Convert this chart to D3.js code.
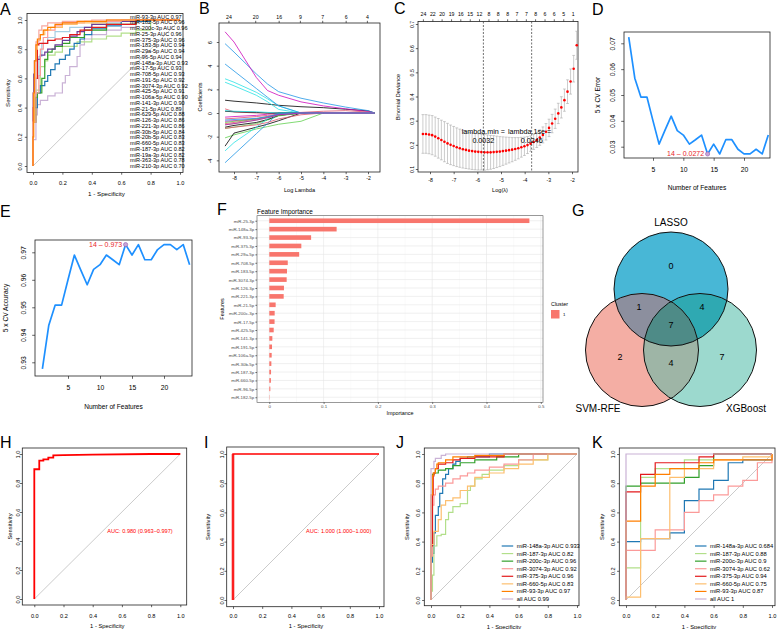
<!DOCTYPE html>
<html><head><meta charset="utf-8">
<script src="https://cdn.jsdelivr.net/npm/d3@7"></script>
<style>body{margin:0;background:#fff}</style>
</head><body>
<script>
// ---------------- DATA ----------------
// Panel A: single-miRNA ROC legend
const aLegendNames = ["miR-93-3p","miR-182-5p","miR-200c-3p","miR-25-3p","miR-375-3p","miR-183-5p","miR-29a-5p","miR-96-5p","miR-148a-3p","miR-17-5p","miR-708-5p","miR-191-5p","miR-3074-3p","miR-425-5p","miR-106a-5p","miR-141-3p","miR-21-5p","miR-629-5p","miR-126-3p","miR-221-3p","miR-30b-5p","miR-20b-5p","miR-660-5p","miR-187-3p","miR-19a-3p","miR-363-3p","miR-210-3p"];
const aLegendAUC = ["0.97","0.96","0.96","0.96","0.96","0.94","0.94","0.94","0.93","0.93","0.93","0.92","0.92","0.91","0.90","0.90","0.89","0.88","0.86","0.86","0.84","0.83","0.83","0.82","0.82","0.78","0.70"];
const aCurveColors = ["#CAB2D6","#B2DF8A","#A6CEE3","#1F78B4","#33A02C","#6A3D9A","#FB9A99","#E31A1C","#FDBF6F","#F7A8A0","#FF7F00"];
const aCurves = [
 [[0,0],[0.02,0.18],[0.03,0.35],[0.05,0.42],[0.1,0.45],[0.15,0.48],[0.2,0.5],[0.22,0.57],[0.25,0.62],[0.3,0.68],[0.32,0.75],[0.35,0.83],[0.4,0.87],[0.5,0.9],[0.6,0.93],[0.7,0.95],[1,1]],
 [[0,0],[0.02,0.35],[0.05,0.52],[0.08,0.68],[0.1,0.72],[0.15,0.76],[0.2,0.78],[0.3,0.82],[0.4,0.85],[0.5,0.87],[0.6,0.89],[0.7,0.91],[0.8,0.93],[1,1]],
 [[0,0],[0.02,0.4],[0.04,0.6],[0.06,0.75],[0.1,0.84],[0.15,0.88],[0.25,0.92],[0.4,0.95],[0.6,0.98],[1,1]],
 [[0,0],[0.03,0.4],[0.05,0.5],[0.08,0.55],[0.1,0.58],[0.12,0.62],[0.15,0.66],[0.18,0.7],[0.22,0.73],[0.25,0.76],[0.28,0.8],[0.32,0.84],[0.35,0.87],[0.4,0.9],[0.5,0.94],[0.6,0.96],[0.8,0.99],[1,1]],
 [[0,0],[0.02,0.3],[0.03,0.47],[0.06,0.5],[0.08,0.6],[0.1,0.73],[0.13,0.78],[0.15,0.8],[0.2,0.82],[0.25,0.84],[0.35,0.88],[0.5,0.93],[0.7,0.97],[1,1]],
 [[0,0],[0,0.1],[0.005,0.5],[0.01,0.63],[0.02,0.72],[0.05,0.73],[0.08,0.76],[0.1,0.78],[0.15,0.8],[0.2,0.83],[0.25,0.86],[0.3,0.89],[0.35,0.92],[0.4,0.95],[0.5,0.97],[0.7,0.99],[1,1]],
 [[0,0],[0.02,0.3],[0.04,0.5],[0.05,0.62],[0.07,0.8],[0.1,0.88],[0.15,0.93],[0.2,0.96],[0.35,0.98],[0.6,0.99],[1,1]],
 [[0,0],[0.01,0.4],[0.03,0.6],[0.04,0.83],[0.1,0.84],[0.15,0.86],[0.2,0.87],[0.25,0.88],[0.32,0.9],[0.4,0.93],[0.5,0.95],[0.7,0.97],[1,1]],
 [[0,0],[0.01,0.3],[0.02,0.6],[0.03,0.8],[0.05,0.86],[0.08,0.9],[0.12,0.93],[0.2,0.95],[0.3,0.97],[0.5,0.98],[1,1]],
 [[0,0],[0.02,0.5],[0.04,0.85],[0.06,0.93],[0.1,0.96],[0.2,0.98],[0.4,0.99],[1,1]],
 [[0,0],[0.005,0.2],[0.01,0.5],[0.02,0.72],[0.03,0.83],[0.05,0.87],[0.07,0.9],[0.1,0.93],[0.15,0.95],[0.2,0.97],[0.3,0.98],[0.5,0.99],[0.7,1],[1,1]]
];

// Panel B: LASSO coefficient paths
const bLambda = [-8.4,-8.0,-7.0,-6.5,-6.0,-5.0,-4.0,-3.0,-2.0,-1.7];
const bCoefs = [
 [1.08,1.0,0.85,0.75,0.65,0.53,0.45,0.32,0.18,0],
 [-0.5,-0.45,-0.3,-0.2,-0.1,0,0,0,0,0],
 [-2.1,-1.85,-1.35,-1.15,-0.95,-0.7,0,0,0,0],
 [5.86,5.15,3.3,2.45,1.8,1.25,0.85,0.5,0.2,0],
 [2.89,2.6,1.75,1.2,0.6,0,0,0,0,0],
 [6.86,6.0,3.0,1.9,1.5,0.94,0.6,0.35,0.12,0],
 [-2.8,-1.7,-1.2,-0.95,-0.65,0,0,0,0,0],
 [-0.9,-0.8,-0.5,-0.3,-0.1,0,0,0,0,0],
 [-1.3,-1.2,-0.9,-0.6,-0.25,0,0,0,0,0],
 [4.14,3.55,2.07,1.33,0.6,0,0,0,0,0],
 [2.6,2.3,1.5,0.95,0.3,0,0,0,0,0],
 [-0.35,-0.3,-0.2,-0.1,0,0,0,0,0,0],
 [-1.2,-1.05,-0.8,-0.55,-0.2,0,0,0,0,0],
 [0.35,0.1,0,0,0,0.05,0.15,0.2,0.08,0],
 [-1.0,-0.9,-0.6,-0.4,-0.15,0,0,0,0,0],
 [-4.2,-3.5,-1.75,-0.87,0,0,0,0,0,0],
 [-3.2,-2.5,-1.2,-0.5,0,0,0,0,0,0],
 [-0.7,-0.65,-0.5,-0.35,-0.1,0,0,0,0,0],
 [0.15,0.1,0.05,0,0,0,0,0,0,0],
 [-1.3,-1.2,-1.0,-0.8,-0.5,-0.15,0,0,0,0],
 [-0.8,-0.7,-0.5,-0.35,-0.2,0,0,0,0,0],
 [-0.6,-0.55,-0.45,-0.3,-0.1,0,0,0,0,0],
 [0.2,0.15,0.1,0.05,0,0,0,0,0,0],
 [-1.0,-0.9,-0.6,-0.4,-0.15,0,0,0,0,0]
];
const bPalette = ["#000000","#DF536B","#61D04F","#2297E6","#28E2E5","#CD0BBC"];
const bTopLambda = [-8.25,-7.05,-6.0,-5.05,-4.05,-3.0,-2.05];
const bTopCounts = ["24","20","16","9","7","6","4"];

// Panel C: cross-validation deviance
const cLogLambda = [-8.30,-8.17,-8.04,-7.91,-7.78,-7.65,-7.52,-7.39,-7.26,-7.13,-7.00,-6.87,-6.74,-6.61,-6.48,-6.35,-6.22,-6.09,-5.96,-5.83,-5.70,-5.57,-5.44,-5.31,-5.18,-5.05,-4.92,-4.79,-4.66,-4.53,-4.40,-4.27,-4.14,-4.01,-3.88,-3.75,-3.62,-3.49,-3.36,-3.23,-3.10,-2.97,-2.84,-2.71,-2.58,-2.45,-2.32,-2.19,-2.06,-1.93,-1.80];
const cMean = [0.245,0.245,0.243,0.240,0.234,0.227,0.220,0.213,0.206,0.200,0.195,0.190,0.186,0.182,0.179,0.176,0.174,0.172,0.171,0.170,0.169,0.169,0.169,0.170,0.171,0.172,0.174,0.176,0.178,0.180,0.183,0.186,0.190,0.194,0.199,0.205,0.212,0.220,0.230,0.241,0.254,0.270,0.288,0.308,0.330,0.355,0.385,0.420,0.462,0.515,0.612];
const cSd = [0.080,0.080,0.080,0.081,0.081,0.082,0.082,0.083,0.083,0.082,0.081,0.080,0.079,0.078,0.077,0.076,0.076,0.075,0.075,0.074,0.074,0.072,0.070,0.068,0.065,0.062,0.059,0.056,0.053,0.050,0.047,0.044,0.041,0.038,0.035,0.032,0.031,0.031,0.032,0.033,0.034,0.036,0.038,0.040,0.042,0.044,0.046,0.049,0.052,0.055,0.058];
const cTopLambda = [-8.30,-7.90,-7.51,-7.11,-6.72,-6.32,-5.93,-5.53,-5.14,-4.74,-4.35,-3.95,-3.56,-3.16,-2.77,-2.37,-1.97];
const cTopCounts = ["24","22","20","19","16","15","12","8","8","8","7","7","8","6","6","5","1"];
const cLambdaMin = 0.0032, cLambda1se = 0.0246;

// Panels D/E: SVM-RFE CV error / accuracy
const dFeatures = [1,2,3,4,5,6,7,8,9,10,11,12,13,14,15,16,17,18,19,20,21,22,23,24];
const dError = [0.0724,0.0565,0.0492,0.0492,0.0400,0.0310,0.0365,0.0418,0.0362,0.0345,0.0310,0.0327,0.0345,0.0272,0.0310,0.0272,0.0327,0.0327,0.0290,0.0272,0.0272,0.0290,0.0272,0.0345];
const eAccuracy = [0.9276,0.9435,0.9508,0.9508,0.9600,0.9690,0.9635,0.9582,0.9638,0.9655,0.9690,0.9673,0.9655,0.9728,0.9690,0.9728,0.9673,0.9673,0.9710,0.9728,0.9728,0.9710,0.9728,0.9655];

// Panel F: XGBoost importance
const fFeatures = ["miR-25-3p","miR-148a-3p","miR-93-3p","miR-375-3p","miR-29a-5p","miR-708-5p","miR-183-5p","miR-3074-3p","miR-126-3p","miR-221-3p","miR-21-5p","miR-200c-3p","miR-17-5p","miR-425-5p","miR-141-3p","miR-191-5p","miR-106a-5p","miR-30b-5p","miR-187-3p","miR-660-5p","miR-96-5p","miR-182-5p"];
const fImportance = [0.479,0.124,0.077,0.059,0.055,0.034,0.0326,0.032,0.027,0.0265,0.0117,0.0099,0.0097,0.0081,0.0056,0.005,0.0044,0.0038,0.0032,0.003,0.0019,0.0003];
const fTicks = [0,0.1,0.2,0.3,0.4,0.5];

// Panel G: Venn
const vennSets = ["LASSO","SVM-RFE","XGBoost"];
const vennCounts = [0,2,7,1,4,4,7]; // LASSO only, SVM only, XGB only, L&S, L&X, S&X, all

// Panel H / I: combined model ROC
const hRoc = [[0,0],[0,0.895],[0.034,0.895],[0.034,0.954],[0.062,0.954],[0.062,0.963],[0.096,0.963],[0.096,0.975],[0.13,0.975],[0.13,0.99],[0.2,0.992],[0.4,0.995],[0.8,1],[1,1]];
const hAucText = "AUC: 0.980 (0.963\u20130.997)";
const iRoc = [[0,0],[0,1],[1,1]];
const iAucText = "AUC: 1.000 (1.000\u20131.000)";

// Panels J / K
const jkNames = ["miR-148a-3p","miR-187-3p","miR-200c-3p","miR-3074-3p","miR-375-3p","miR-660-5p","miR-93-3p","all"];
const jkColors = ["#1F78B4","#B2DF8A","#33A02C","#FB9A99","#E31A1C","#FDBF6F","#FF7F00","#CAB2D6"];
const jAUC = ["0.933","0.82","0.96","0.92","0.96","0.83","0.97","0.99"];
const kAUC = ["0.684","0.88","0.9","0.62","0.94","0.75","0.87","1"];
const jCurves = [
 [[0,0],[0.01,0.26],[0.02,0.32],[0.03,0.46],[0.05,0.58],[0.06,0.64],[0.08,0.73],[0.1,0.83],[0.12,0.86],[0.15,0.9],[0.17,0.93],[0.2,0.95],[0.25,0.97],[0.4,0.98],[1,1]],
 [[0,0],[0.01,0.06],[0.02,0.17],[0.04,0.37],[0.07,0.44],[0.1,0.45],[0.12,0.55],[0.15,0.6],[0.2,0.64],[0.25,0.66],[0.27,0.75],[0.3,0.78],[0.35,0.83],[0.4,0.86],[0.5,0.89],[0.6,0.92],[0.8,0.96],[1,1]],
 [[0,0],[0.01,0.3],[0.02,0.86],[0.05,0.87],[0.1,0.89],[0.15,0.9],[0.2,0.92],[0.3,0.94],[0.45,0.96],[0.6,0.98],[1,1]],
 [[0,0],[0.01,0.3],[0.02,0.65],[0.03,0.72],[0.05,0.76],[0.1,0.78],[0.15,0.8],[0.2,0.83],[0.25,0.85],[0.3,0.87],[0.4,0.89],[0.5,0.91],[0.6,0.93],[0.7,0.96],[1,1]],
 [[0,0],[0.01,0.37],[0.015,0.72],[0.02,0.85],[0.03,0.87],[0.05,0.9],[0.1,0.93],[0.15,0.94],[0.2,0.96],[0.3,0.97],[0.5,0.98],[1,1]],
 [[0,0],[0.02,0.38],[0.05,0.47],[0.07,0.55],[0.1,0.65],[0.15,0.68],[0.2,0.7],[0.25,0.75],[0.3,0.78],[0.4,0.84],[0.5,0.87],[0.6,0.9],[0.7,0.93],[0.8,0.96],[1,1]],
 [[0,0],[0.005,0.72],[0.01,0.72],[0.015,0.85],[0.03,0.87],[0.04,0.9],[0.05,0.93],[0.1,0.94],[0.15,0.96],[0.3,0.98],[0.5,0.99],[1,1]],
 [[0,0],[0.005,0.9],[0.02,0.9],[0.03,0.95],[0.07,0.97],[0.1,0.99],[0.3,1],[1,1]]
];
const kCurves = [
 [[0,0],[0,0.4],[0.1,0.4],[0.1,0.42],[0.3,0.42],[0.3,0.46],[0.4,0.46],[0.4,0.68],[0.5,0.68],[0.5,0.76],[0.6,0.76],[0.6,0.82],[0.7,0.82],[0.7,0.94],[0.8,0.94],[0.8,0.96],[1,0.96],[1,1]],
 [[0,0],[0,0.22],[0.1,0.22],[0.1,0.84],[0.2,0.84],[0.2,0.9],[0.4,0.9],[0.4,0.96],[0.6,0.96],[0.6,1],[1,1]],
 [[0,0],[0,0.78],[0.1,0.78],[0.1,0.8],[0.4,0.8],[0.4,0.84],[0.5,0.84],[0.5,0.92],[0.6,0.92],[0.6,1],[1,1]],
 [[0,0],[0,0.34],[0.2,0.34],[0.2,0.48],[0.4,0.48],[0.4,0.6],[0.5,0.6],[0.5,0.68],[0.6,0.68],[0.6,0.72],[0.7,0.72],[0.7,0.78],[0.8,0.78],[0.8,0.82],[0.9,0.82],[0.9,0.94],[1,0.94],[1,1]],
 [[0,0],[0,0.74],[0.1,0.74],[0.1,0.86],[0.2,0.86],[0.2,0.94],[0.5,0.94],[0.5,0.98],[0.6,0.98],[0.6,1],[1,1]],
 [[0,0],[0,0.02],[0.1,0.02],[0.1,0.42],[0.3,0.42],[0.3,0.84],[0.4,0.84],[0.4,0.9],[0.6,0.9],[0.6,0.96],[0.8,0.96],[0.8,0.98],[1,0.98],[1,1]],
 [[0,0],[0,0.54],[0.1,0.54],[0.1,0.78],[0.2,0.78],[0.2,0.86],[0.3,0.86],[0.3,0.9],[0.5,0.9],[0.5,0.94],[0.6,0.94],[0.6,0.96],[1,0.96],[1,1]],
 [[0,0],[0,1],[1,1]]
];
const rocTicks = [0,0.2,0.4,0.6,0.8,1];

// ---------------- DRAWING ----------------
const FONT = '"Liberation Sans", Arial, Helvetica, sans-serif';
const svg = d3.select("body").append("svg").attr("width",778).attr("height",629)
  .attr("font-family",FONT);
const defs = svg.append("defs");

function frame(g,x0,x1,y0,y1,stroke="#222",sw=0.8){
  g.append("rect").attr("x",x0).attr("y",y0).attr("width",x1-x0).attr("height",y1-y0)
   .attr("fill","none").attr("stroke",stroke).attr("stroke-width",sw);
}
function txt(g,x,y,s,fs,o={}){
  const t=g.append("text").attr("x",x).attr("y",y).attr("font-size",fs)
    .attr("text-anchor",o.anchor||"middle").attr("dominant-baseline",o.baseline||"central")
    .attr("fill",o.fill||"#000").text(s);
  if(o.rotate) t.attr("transform",`rotate(-90,${x},${y})`);
  if(o.weight) t.attr("font-weight",o.weight);
  return t;
}
function axisB(g,scale,ticks,y,fs,off,fmt,tl=2.2,col="#222"){
  const ax=d3.axisBottom(scale).tickValues(ticks).tickSize(tl).tickFormat(fmt||(d=>d));
  const a=g.append("g").attr("transform",`translate(0,${y})`).call(ax);
  a.attr("font-family",FONT).attr("font-size",fs);
  a.select(".domain").remove();
  a.selectAll(".tick line").attr("stroke",col).attr("stroke-width",0.7);
  a.selectAll(".tick text").attr("y",off).attr("dy","0.35em").attr("fill","#000");
  return a;
}
function axisT(g,scale,ticks,y,fs,off,labels,tl=2.2){
  const ax=d3.axisTop(scale).tickValues(ticks).tickSize(tl).tickFormat((d,i)=>labels[i]);
  const a=g.append("g").attr("transform",`translate(0,${y})`).call(ax);
  a.attr("font-family",FONT).attr("font-size",fs);
  a.select(".domain").remove();
  a.selectAll(".tick line").attr("stroke","#222").attr("stroke-width",0.7);
  a.selectAll(".tick text").attr("y",-off).attr("dy","0.35em").attr("fill","#000");
  return a;
}
function axisL(g,scale,ticks,x,fs,off,fmt,tl=2.2,rotate=true,col="#222"){
  const ax=d3.axisLeft(scale).tickValues(ticks).tickSize(tl).tickFormat(fmt||(d=>d));
  const a=g.append("g").attr("transform",`translate(${x},0)`).call(ax);
  a.attr("font-family",FONT).attr("font-size",fs);
  a.select(".domain").remove();
  a.selectAll(".tick line").attr("stroke",col).attr("stroke-width",0.7);
  if(rotate){
    a.selectAll(".tick text").attr("transform","rotate(-90)").attr("x",0).attr("y",-off)
     .attr("dy","0.35em").attr("text-anchor","middle").attr("fill","#000");
  } else {
    a.selectAll(".tick text").attr("x",-off).attr("fill","#000");
  }
  return a;
}
function letter(s,x,y){ svg.append("text").attr("x",x).attr("y",y).attr("font-size",16).text(s); }
const f1 = d3.format(".1f");

function rocPanel(c){
  const g=svg.append("g");
  const x=d3.scaleLinear().domain([0,1]).range([c.x0,c.x1]);
  const y=d3.scaleLinear().domain([0,1]).range([c.y0,c.y1]);
  g.append("line").attr("x1",x(0)).attr("y1",y(0)).attr("x2",x(1)).attr("y2",y(1))
   .attr("stroke","#BEBEBE").attr("stroke-width",0.8);
  frame(g,c.bx0,c.bx1,c.by0,c.by1);
  axisB(g,x,rocTicks,c.by1,c.fs,c.xoff,f1);
  axisL(g,y,rocTicks,c.bx0,c.fs,c.yoff,f1);
  txt(g,(x(0)+x(1))/2,c.xlabY,"1 - Specificity",c.lfs);
  txt(g,c.ylabX,(c.by0+c.by1)/2,"Sensitivity",c.lfs,{rotate:true});
  return {g,x,y};
}

// ===== A =====
{
  const p=rocPanel({x0:33,x1:180,y0:166,y1:20,bx0:27,bx1:183,by0:13.5,by1:172.5,fs:5.6,xoff:10.5,yoff:7,xlabY:193,ylabX:7,lfs:6.2});
  const line=d3.line().x(d=>p.x(d[0])).y(d=>p.y(d[1])).curve(d3.curveStepBefore);
  aCurves.forEach((c,i)=>p.g.append("path").attr("d",line(c)).attr("fill","none")
     .attr("stroke",aCurveColors[i]).attr("stroke-width",1.2));
  const ly=d3.scalePoint().domain(aLegendNames).range([16.7,166]);
  aLegendNames.forEach((n,i)=>txt(p.g,130,ly(n),`${n} AUC ${aLegendAUC[i]}`,5.6,{anchor:"start"}));
  letter("A",0,15);
}

// ===== B =====
{
  const g=svg.append("g");
  const x=d3.scaleLinear().domain([-8,-2]).range([234,368]);
  const y=d3.scaleLinear().domain([0,6]).range([113,42]);
  frame(g,219,380,23,172);
  const line=d3.line().x((d,i)=>x(bLambda[i])).y(d=>y(d));
  bCoefs.forEach((c,i)=>g.append("path").attr("d",line(c)).attr("fill","none")
     .attr("stroke",bPalette[i%6]).attr("stroke-width",0.8));
  axisB(g,x,[-8,-7,-6,-5,-4,-3,-2],172,5.2,6.5,d=>d);
  axisL(g,y,[-4,-2,0,2,4,6],219,5.2,9,d=>d);
  axisT(g,x,bTopLambda,23,5.2,6,bTopCounts);
  txt(g,299.5,190,"Log Lambda",5.6);
  txt(g,200,97,"Coefficients",5.6,{rotate:true});
  letter("B",199,13.5);
}

// ===== C =====
{
  const g=svg.append("g");
  const x=d3.scaleLinear().domain([-8,-2]).range([430,572]);
  const y=d3.scaleLinear().domain([0.1,0.7]).range([169,24]);
  frame(g,418,578,21.5,172);
  cLogLambda.forEach((l,i)=>{
    const xx=x(l), yt=y(cMean[i]+cSd[i]), yb=y(cMean[i]-cSd[i]);
    g.append("line").attr("x1",xx).attr("x2",xx).attr("y1",yt).attr("y2",yb).attr("stroke","#A9A9A9").attr("stroke-width",0.6);
    g.append("line").attr("x1",xx-1.4).attr("x2",xx+1.4).attr("y1",yt).attr("y2",yt).attr("stroke","#A9A9A9").attr("stroke-width",0.6);
    g.append("line").attr("x1",xx-1.4).attr("x2",xx+1.4).attr("y1",yb).attr("y2",yb).attr("stroke","#A9A9A9").attr("stroke-width",0.6);
  });
  cLogLambda.forEach((l,i)=>g.append("circle").attr("cx",x(l)).attr("cy",y(cMean[i])).attr("r",1.3).attr("fill","#FF0000"));
  [cLambdaMin,cLambda1se].forEach(v=>g.append("line").attr("x1",x(Math.log(v))).attr("x2",x(Math.log(v)))
     .attr("y1",21.5).attr("y2",172).attr("stroke","#333").attr("stroke-width",0.7).attr("stroke-dasharray","2,1.5"));
  axisB(g,x,[-8,-7,-6,-5,-4,-3,-2],172,5.2,8,d=>d);
  axisL(g,y,[0.1,0.2,0.3,0.4,0.5,0.6,0.7],418,5.2,6,f1);
  axisT(g,x,cTopLambda,21.5,5.2,7,cTopCounts);
  txt(g,500,190,"Log(\u03bb)",5.6);
  txt(g,398,97,"Binomial Deviance",5.6,{rotate:true});
  const xm=x(Math.log(cLambdaMin)), xs=x(Math.log(cLambda1se));
  txt(g,xm,131.5,"lambda.min =",7.2);
  txt(g,xm,140.5,String(cLambdaMin),7.2);
  txt(g,xs-2,131.5,"lambda.1se =",7.2);
  txt(g,xs,140.5,String(cLambda1se),7.2);
  letter("C",394,14);
}

// ===== D & E =====
function rfePanel(o){
  const g=svg.append("g");
  const x=d3.scaleLinear().domain([5,20]).range(o.xr);
  const y=d3.scaleLinear().domain(o.yd).range(o.yr);
  frame(g,o.bx0,o.bx1,o.by0,o.by1);
  g.append("path").attr("d",d3.line().x((d,i)=>x(dFeatures[i])).y(d=>y(d))(o.vals))
   .attr("fill","none").attr("stroke","#1E90FF").attr("stroke-width",1.7).attr("stroke-linejoin","round");
  axisB(g,x,[5,10,15,20],o.by1,6.8,12,d=>d,2.8);
  axisL(g,y,o.yt,o.bx0,6.8,11.3,o.fmt,2.8);
  txt(g,(o.bx0+o.bx1)/2,o.xlabY,"Number of Features",6.6);
  txt(g,o.ylabX,(o.by0+o.by1)/2,o.ylab,6.6,{rotate:true});
  const bi=13;
  g.append("circle").attr("cx",x(dFeatures[bi])).attr("cy",y(o.vals[bi])).attr("r",2.1)
   .attr("fill","#C9A6D6").attr("stroke","#8E5DB0").attr("stroke-width",0.6);
  txt(g,x(dFeatures[bi])-3.5,y(o.vals[bi]),`${dFeatures[bi]} \u2013 ${o.best}`,7,{anchor:"end",fill:"#E8252A"});
}
rfePanel({xr:[653,744],yd:[0.03,0.07],yr:[146.7,43.3],bx0:624,bx1:770,by0:32,by1:158,vals:dError,
  yt:[0.03,0.04,0.05,0.06,0.07],fmt:d3.format(".2f"),xlabY:187,ylabX:597,ylab:"5 x CV Error",best:"0.0272"});
letter("D",592,15);
rfePanel({xr:[68,164],yd:[0.93,0.97],yr:[362.3,252.3],bx0:35,bx1:192,by0:240,by1:376,vals:eAccuracy,
  yt:[0.93,0.94,0.95,0.96,0.97],fmt:d3.format(".2f"),xlabY:406,ylabX:5,ylab:"5 x CV Accuracy",best:"0.973"});
letter("E",0,217);

// ===== F =====
{
  const g=svg.append("g");
  const px0=257, px1=543, py0=215.7, py1=402.3;
  const x=d3.scaleLinear().domain([0,0.5]).range([269.3,540.8]);
  const y=d3.scalePoint().domain(fFeatures).range([py0,py1]).padding(0.6);
  g.append("rect").attr("x",px0).attr("y",py0).attr("width",px1-px0).attr("height",py1-py0).attr("fill","#fff");
  [0.05,0.15,0.25,0.35,0.45].forEach(v=>g.append("line").attr("x1",x(v)).attr("x2",x(v)).attr("y1",py0).attr("y2",py1).attr("stroke","#F2F2F2").attr("stroke-width",0.4));
  fTicks.forEach(v=>g.append("line").attr("x1",x(v)).attr("x2",x(v)).attr("y1",py0).attr("y2",py1).attr("stroke","#E6E6E6").attr("stroke-width",0.6));
  fFeatures.forEach(f=>g.append("line").attr("x1",px0).attr("x2",px1).attr("y1",y(f)).attr("y2",y(f)).attr("stroke","#E6E6E6").attr("stroke-width",0.6));
  const bh=y.step()*0.55;
  fFeatures.forEach((f,i)=>g.append("rect").attr("x",x(0)).attr("y",y(f)-bh/2)
     .attr("width",Math.max(0.3,x(fImportance[i])-x(0))).attr("height",bh).attr("fill","#F8766D"));
  frame(g,px0,px1,py0,py1,"#555",0.6);
  axisB(g,x,fTicks,py1,4.4,3.8,d=>d,1.6,"#333").selectAll(".tick text").attr("fill","#4D4D4D");
  axisL(g,y,fFeatures,px0,4.4,2.8,d=>d,1.6,false,"#333").selectAll(".tick text").attr("fill","#4D4D4D");
  txt(g,(px0+px1)/2,413,"Importance",5.4);
  txt(g,222,(py0+py1)/2,"Features",5.4,{rotate:true});
  txt(g,px0,211,"Feature Importance",6.4,{anchor:"start"});
  txt(g,551,304,"Cluster",5.4,{anchor:"start"});
  g.append("rect").attr("x",551).attr("y",310).attr("width",8.5).attr("height",8.5).attr("fill","#F8766D");
  txt(g,563,314.3,"1",4.4,{anchor:"start"});
  letter("F",217,215);
}

// ===== G (Venn) =====
{
  const g=svg.append("g");
  const cA=[671,289,57], cB=[642,350,56.5], cC=[700,350,56.5];
  [["clipA",cA],["clipB",cB]].forEach(([id,c])=>defs.append("clipPath").attr("id",id)
     .append("circle").attr("cx",c[0]).attr("cy",c[1]).attr("r",c[2]));
  const circ=(par,c,fill)=>par.append("circle").attr("cx",c[0]).attr("cy",c[1]).attr("r",c[2]).attr("fill",fill);
  circ(g,cA,"#48B7D6"); circ(g,cB,"#F4AEA4"); circ(g,cC,"#9CD9CE");
  circ(g.append("g").attr("clip-path","url(#clipA)"),cB,"#8C8F9E");
  circ(g.append("g").attr("clip-path","url(#clipA)"),cC,"#2FA9B2");
  circ(g.append("g").attr("clip-path","url(#clipB)"),cC,"#9EB5A6");
  circ(g.append("g").attr("clip-path","url(#clipA)").append("g").attr("clip-path","url(#clipB)"),cC,"#4E8B87");
  [cA,cB,cC].forEach(c=>g.append("circle").attr("cx",c[0]).attr("cy",c[1]).attr("r",c[2])
     .attr("fill","none").attr("stroke","#111").attr("stroke-width",1));
  const pos=[[671,266],[620,357],[722,357],[639,307],[702,307],[671,363],[671,325]];
  vennCounts.forEach((v,i)=>txt(g,pos[i][0],pos[i][1],String(v),9));
  txt(g,671,222,vennSets[0],10);
  txt(g,598,408,vennSets[1],10);
  txt(g,746,408,vennSets[2],10);
  letter("G",572,216);
}

// ===== H =====
{
  const p=rocPanel({x0:34.3,x1:180.3,y0:599,y1:454,bx0:22.3,bx1:186.7,by0:448,by1:605,fs:5.6,xoff:10.7,yoff:4,xlabY:626,ylabX:10,lfs:5.8});
  p.g.append("path").attr("d",d3.line().x(d=>p.x(d[0])).y(d=>p.y(d[1]))(hRoc))
   .attr("fill","none").attr("stroke","#FF0000").attr("stroke-width",1.8);
  txt(p.g,p.x(0.5),p.y(0.47),hAucText,5.6,{anchor:"start",fill:"#FF0000"});
  letter("H",0,448);
}
// ===== I =====
{
  const p=rocPanel({x0:233,x1:379,y0:600,y1:454,bx0:226.7,bx1:384,by0:447,by1:606.7,fs:5.6,xoff:9.5,yoff:5,xlabY:626,ylabX:208,lfs:5.8});
  p.g.append("line").attr("x1",p.x(0)).attr("x2",p.x(0)).attr("y1",p.y(0)).attr("y2",p.y(1))
   .attr("stroke","#F28080").attr("stroke-width",3);
  p.g.append("path").attr("d",d3.line().x(d=>p.x(d[0])).y(d=>p.y(d[1]))(iRoc))
   .attr("fill","none").attr("stroke","#FF0000").attr("stroke-width",1.5);
  txt(p.g,p.x(0.5),p.y(0.47),iAucText,5.6,{anchor:"start",fill:"#FF0000"});
  letter("I",204,448);
}
// ===== J & K =====
function multiRoc(cfg,curves,aucs,stepped,lx){
  const p=rocPanel(cfg);
  const line=d3.line().x(d=>p.x(d[0])).y(d=>p.y(d[1])).curve(stepped?d3.curveStepBefore:d3.curveLinear);
  curves.forEach((c,i)=>p.g.append("path").attr("d",line(c)).attr("fill","none")
     .attr("stroke",jkColors[i]).attr("stroke-width",1.2));
  const ly=d3.scalePoint().domain(jkNames).range([546,599]);
  jkNames.forEach((n,i)=>{
    p.g.append("line").attr("x1",lx).attr("x2",lx+11.5).attr("y1",ly(n)).attr("y2",ly(n))
     .attr("stroke",jkColors[i]).attr("stroke-width",1.2);
    txt(p.g,lx+15,ly(n),`${n} AUC ${aucs[i]}`,5.8,{anchor:"start"});
  });
}
multiRoc({x0:431,x1:577,y0:600,y1:454,bx0:424.3,bx1:579,by0:448,by1:605.7,fs:5.6,xoff:10.3,yoff:6,xlabY:626.5,ylabX:407,lfs:5.8},jCurves,jAUC,true,501.7);
letter("J",396,448);
multiRoc({x0:626,x1:772,y0:600,y1:454,bx0:619.3,bx1:775,by0:448,by1:605.7,fs:5.6,xoff:10.3,yoff:6,xlabY:626.5,ylabX:602,lfs:5.8},kCurves,kAUC,false,695);
letter("K",592,448);
</script>
</body></html>
